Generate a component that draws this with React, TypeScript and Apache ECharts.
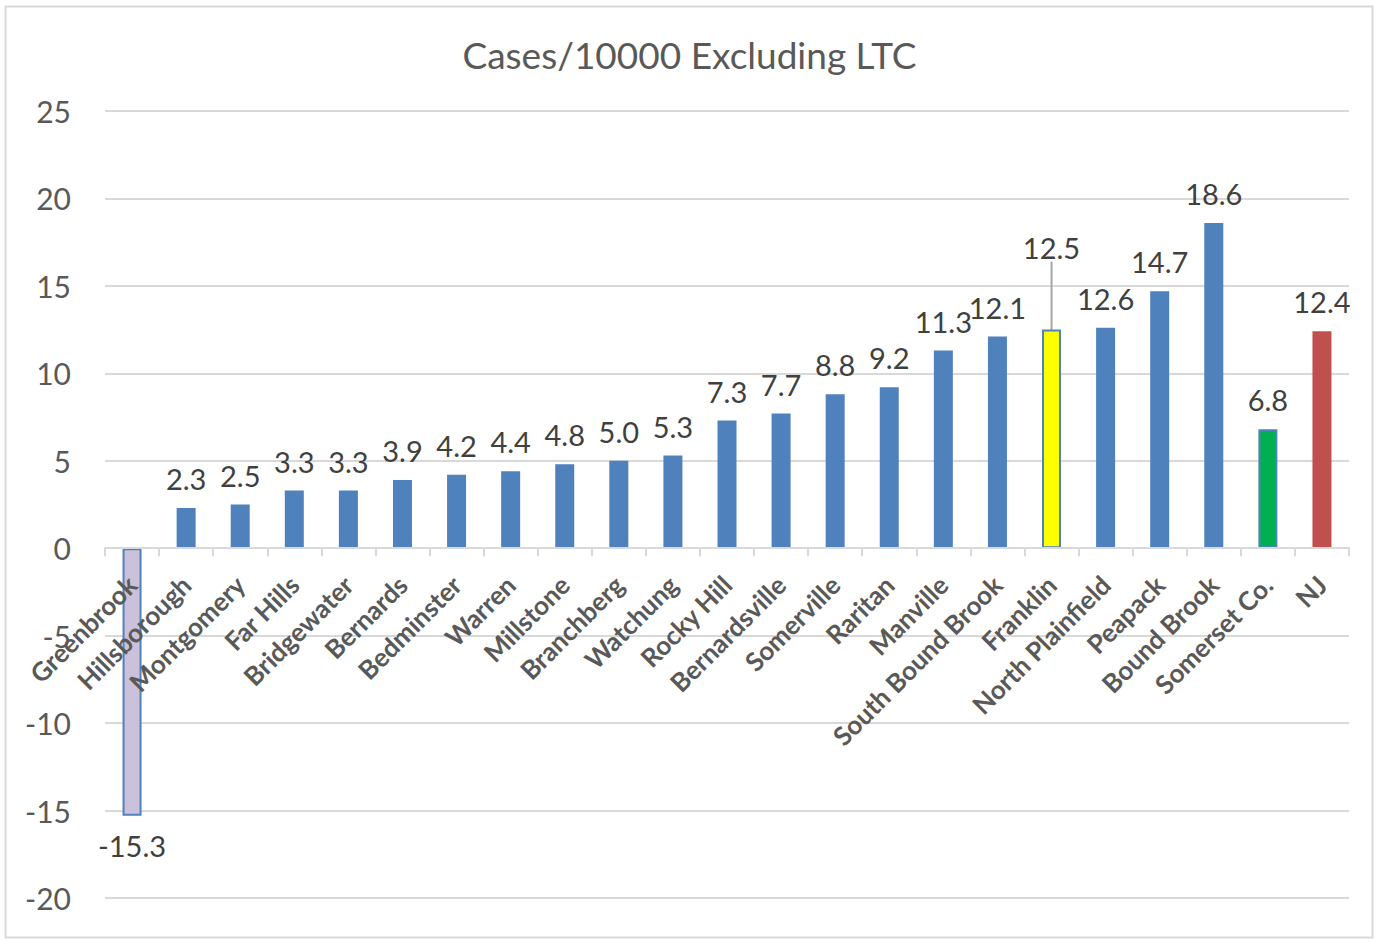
import React, { useEffect, useRef } from "react";
import * as echarts from "echarts";

const title = "Cases/10000 Excluding LTC";
const categories = [
  "Greenbrook", "Hillsborough", "Montgomery", "Far Hills", "Bridgewater", "Bernards",
  "Bedminster", "Warren", "Millstone", "Branchberg", "Watchung", "Rocky Hill",
  "Bernardsville", "Somerville", "Raritan", "Manville", "South Bound Brook", "Franklin",
  "North Plainfield", "Peapack", "Bound Brook", "Somerset Co.", "NJ",
];
const values = [
  -15.3, 2.3, 2.5, 3.3, 3.3, 3.9, 4.2, 4.4, 4.8, 5.0, 5.3, 7.3, 7.7, 8.8, 9.2, 11.3, 12.1,
  12.5, 12.6, 14.7, 18.6, 6.8, 12.4,
];
const yMin = -20;
const yMax = 25;
const yStep = 5;

const BLUE = "#4f81bd";
const specialFill: Record<string, string> = {
  Greenbrook: "#ccc1da",
  Franklin: "#ffff00",
  "Somerset Co.": "#00b050",
  NJ: "#c0504d",
};
const bordered = new Set(["Greenbrook", "Franklin", "Somerset Co."]);
const FONT = "Lato, 'Open Sans', sans-serif";

const W = 1379;
const H = 942;
const GRID_TOP = 111;
const GRID_BOTTOM = 44;

export default function App() {
  const ref = useRef<HTMLDivElement>(null);
  useEffect(() => {
    if (!ref.current) return;
    const chart = echarts.init(ref.current, undefined, { renderer: "svg" });
    const franklinIdx = categories.indexOf("Franklin");
    const plotH = H - GRID_TOP - GRID_BOTTOM;
    const zeroOffset = -((0 - yMin) / (yMax - yMin)) * plotH;
    const data = values.map((v, i) => {
      const name = categories[i];
      const fill = specialFill[name] || BLUE;
      const item: any = {
        value: v,
        itemStyle: {
          color: fill,
          borderColor: bordered.has(name) ? BLUE : fill,
          borderWidth: bordered.has(name) ? 2 : 0,
        },
      };
      if (v < 0) item.label = { position: "bottom" };
      if (i === franklinIdx) item.labelLine = { show: true, lineStyle: { color: "#a6a6a6", width: 2 } };
      return item;
    });
    chart.setOption({
      animation: false,
      backgroundColor: "#ffffff",
      title: {
        text: title,
        left: "center",
        top: 31,
        textStyle: { fontFamily: FONT, fontSize: 37, fontWeight: "normal", color: "#595959" },
      },
      graphic: [
        {
          type: "rect",
          shape: { x: 5.5, y: 6.5, width: 1367, height: 931 },
          style: { fill: "none", stroke: "#d9d9d9", lineWidth: 2 },
          silent: true,
        },
      ],
      grid: {
        left: 105,
        right: 30,
        top: GRID_TOP,
        bottom: GRID_BOTTOM,
        containLabel: false,
        outerBoundsMode: "none",
      },
      xAxis: {
        type: "category",
        data: categories,
        offset: zeroOffset,
        axisLine: { onZero: false, lineStyle: { color: "#d9d9d9", width: 2 } },
        axisTick: { show: true, alignWithLabel: false, length: 8, lineStyle: { color: "#d9d9d9", width: 2 } },
        axisLabel: {
          rotate: 45,
          interval: 0,
          margin: 32,
          align: "right",
          verticalAlign: "middle",
          fontFamily: FONT,
          fontSize: 26,
          fontWeight: "bold",
          color: "#595959",
        },
        z: 5,
      },
      yAxis: {
        type: "value",
        min: yMin,
        max: yMax,
        interval: yStep,
        axisLine: { show: false },
        axisTick: { show: false },
        splitLine: { lineStyle: { color: "#d9d9d9", width: 2 } },
        axisLabel: { fontFamily: FONT, fontSize: 30, color: "#595959", margin: 34 },
      },
      series: [
        {
          type: "bar",
          data,
          barWidth: 19,
          z: 2,
          label: {
            show: true,
            position: "top",
            distance: 15,
            fontFamily: FONT,
            fontSize: 29,
            color: "#404040",
            formatter: (p: any) => Number(p.value).toFixed(1),
          },
          labelLine: { show: false },
          labelLayout: (p: any) => (p.dataIndex === franklinIdx ? { dy: -53 } : {}),
        },
      ],
    });
    return () => chart.dispose();
  }, []);
  return (
    <div
      ref={ref}
      style={{ position: "fixed", left: 0, top: 0, width: W, height: H }}
    />
  );
}
